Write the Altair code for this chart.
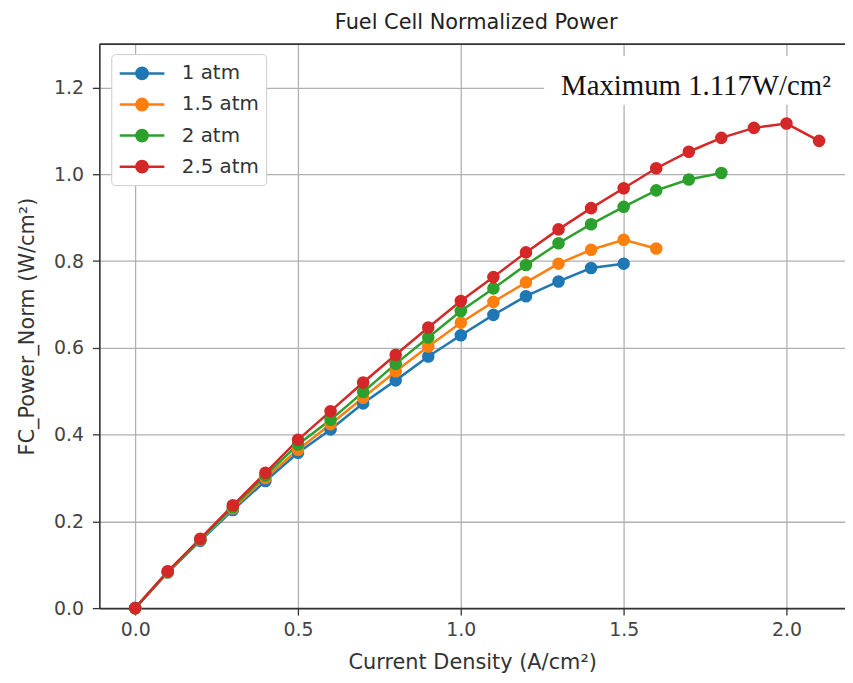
import altair as alt
import pandas as pd

# ---- data ----
series_names = ["1 atm", "1.5 atm", "2 atm", "2.5 atm"]
series_colors = ["#1f77b4", "#ff7f0e", "#2ca02c", "#d62728"]

current_1atm = [0.0, 0.1, 0.2, 0.3, 0.4, 0.5, 0.6, 0.7, 0.8, 0.9, 1.0, 1.1, 1.2, 1.3, 1.4, 1.5]
power_1atm = [0.0, 0.082, 0.155, 0.226, 0.293, 0.358, 0.412, 0.472, 0.525, 0.580,
              0.629, 0.676, 0.719, 0.753, 0.784, 0.794]

current_15atm = [0.0, 0.1, 0.2, 0.3, 0.4, 0.5, 0.6, 0.7, 0.8, 0.9, 1.0, 1.1, 1.2, 1.3, 1.4, 1.5, 1.6]
power_15atm = [0.0, 0.083, 0.157, 0.230, 0.300, 0.365, 0.424, 0.485, 0.546, 0.603,
               0.658, 0.706, 0.751, 0.794, 0.826, 0.849, 0.829]

current_2atm = [0.0, 0.1, 0.2, 0.3, 0.4, 0.5, 0.6, 0.7, 0.8, 0.9, 1.0, 1.1, 1.2, 1.3,
                1.4, 1.5, 1.6, 1.7, 1.8]
power_2atm = [0.0, 0.084, 0.158, 0.233, 0.306, 0.377, 0.434, 0.498, 0.563, 0.624,
              0.685, 0.737, 0.791, 0.841, 0.885, 0.925, 0.963, 0.988, 1.003]

current_25atm = [0.0, 0.1, 0.2, 0.3, 0.4, 0.5, 0.6, 0.7, 0.8, 0.9, 1.0, 1.1, 1.2, 1.3,
                 1.4, 1.5, 1.6, 1.7, 1.8, 1.9, 2.0, 2.1]
power_25atm = [0.0, 0.085, 0.160, 0.237, 0.312, 0.388, 0.454, 0.520, 0.584, 0.647,
               0.708, 0.763, 0.820, 0.873, 0.922, 0.968, 1.014, 1.052, 1.084, 1.107,
               1.117, 1.077]

x_ticks = [0.0, 0.5, 1.0, 1.5, 2.0]
y_ticks = [0.0, 0.2, 0.4, 0.6, 0.8, 1.0, 1.2]

title_text = "Fuel Cell Normalized Power"
x_title = "Current Density (A/cm²)"
y_title = "FC_Power_Norm (W/cm²)"
annotation_text = "Maximum 1.117W/cm²"

# ---- build table ----
rows = []
for name, xs, ys in zip(series_names,
                        [current_1atm, current_15atm, current_2atm, current_25atm],
                        [power_1atm, power_15atm, power_2atm, power_25atm]):
    for i, (xv, yv) in enumerate(zip(xs, ys)):
        rows.append({"current": xv, "power": yv, "series": name, "order": i})
df = pd.DataFrame(rows)

W, H = 751, 568

# legend symbol: line with a dot (units of sqrt(size)/2 = 11 px)
legend_symbol = ("M-1,0L3.09,0"
                 "M1.565,0A0.52,0.52,0,1,1,0.525,0A0.52,0.52,0,1,1,1.565,0Z")

legend = alt.Legend(
    title=None,
    orient="none",
    legendX=12,
    legendY=10,
    symbolType=legend_symbol,
    symbolSize=484,
    symbolStrokeWidth=2.5,
    symbolOpacity=1,
    labelFont="DejaVu Sans",
    labelFontSize=20,
    labelColor="#333333",
    labelOffset=39,
    rowPadding=7.3,
    padding=7,
    fillColor="white",
    strokeColor="#cccccc",
    cornerRadius=4,
)
cscale = alt.Scale(domain=series_names, range=series_colors)

AX = dict(
    grid=True, gridColor="#b0b0b0", gridWidth=1.3,
    domainColor="#333333", domainWidth=1.6,
    tickColor="#333333", tickSize=7, tickWidth=1.3,
    labelFont="DejaVu Sans", labelFontSize=19, labelColor="#444444",
    titleFont="DejaVu Sans", titleFontSize=21, titleFontWeight="normal",
    titleColor="#333333",
)

x_enc = alt.X(
    "current:Q",
    scale=alt.Scale(domain=[-0.11, -0.11 + W / 328.0], nice=False, zero=False),
    axis=alt.Axis(title=x_title, values=x_ticks, format=".1f",
                  labelPadding=6, titlePadding=12, **AX),
)
y_enc = alt.Y(
    "power:Q",
    scale=alt.Scale(domain=[0, 1.3], nice=False),
    axis=alt.Axis(title=y_title, values=y_ticks, format=".1f",
                  labelPadding=9, titlePadding=16, **AX),
)

base = alt.Chart(df)

lines = base.mark_line(strokeWidth=2.5).encode(
    x=x_enc, y=y_enc,
    color=alt.Color("series:N", scale=cscale, legend=legend),
    order="order:Q",
)
points = base.mark_point(filled=True, size=160, opacity=1).encode(
    x=x_enc, y=y_enc,
    color=alt.Color("series:N", scale=cscale, legend=legend),
)

box = alt.Chart().mark_rect(color="white", opacity=1).encode(
    x=alt.value(448), x2=alt.value(752), y=alt.value(12), y2=alt.value(61)
)
note = alt.Chart().mark_text(
    text=annotation_text, font="Liberation Serif", fontSize=29, color="#111111",
    align="left", baseline="middle",
).encode(x=alt.value(465), y=alt.value(42))

top_spine = alt.Chart().mark_rule(color="#333333", strokeWidth=1.6).encode(
    x=alt.value(0), x2=alt.value(W), y=alt.value(0)
)

chart = alt.layer(box, note, lines, points, top_spine).properties(
    width=W,
    height=H,
    title=alt.TitleParams(
        title_text, font="DejaVu Sans", fontSize=21, fontWeight="normal",
        color="#222222", anchor="middle", offset=10, dx=4,
    ),
    autosize=alt.AutoSizeParams(type="none"),
    padding={"left": 92, "top": 34, "right": 0, "bottom": 73},
).configure_view(stroke=None).configure(background="white")

chart.save("out.html", embed_options={"renderer": "svg", "actions": False})
